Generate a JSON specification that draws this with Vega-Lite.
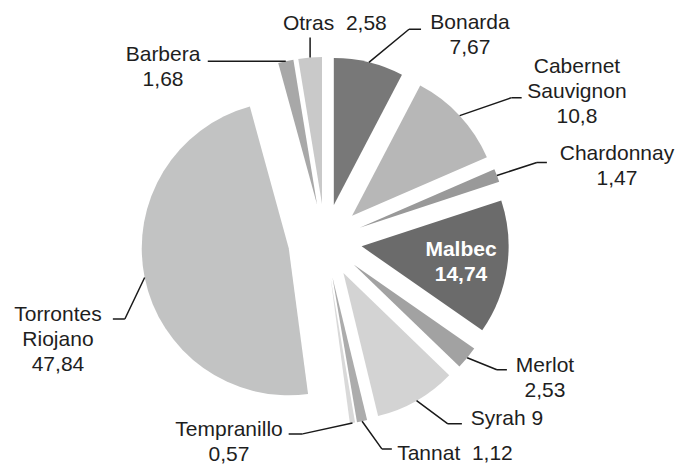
{
  "$schema": "https://vega.github.io/schema/vega-lite/v6.json",
  "width": 650,
  "height": 446,
  "autosize": {"type": "none"},
  "padding": {"left": 0, "top": 18, "right": 28, "bottom": 0},
  "background": "white",
  "config": {"view": {"stroke": null}},
  "data": {
    "values": [
      {"variedad": "Bonarda", "valor": 7.67, "etiqueta": "Bonarda\n7,67"},
      {"variedad": "Cabernet Sauvignon", "valor": 10.8, "etiqueta": "Cabernet\nSauvignon\n10,8"},
      {"variedad": "Chardonnay", "valor": 1.47, "etiqueta": "Chardonnay\n1,47"},
      {"variedad": "Malbec", "valor": 14.74, "etiqueta": "Malbec\n14,74"},
      {"variedad": "Merlot", "valor": 2.53, "etiqueta": "Merlot\n2,53"},
      {"variedad": "Syrah", "valor": 9, "etiqueta": "Syrah 9"},
      {"variedad": "Tannat", "valor": 1.12, "etiqueta": "Tannat \u00a01,12"},
      {"variedad": "Tempranillo", "valor": 0.57, "etiqueta": "Tempranillo\n0,57"},
      {"variedad": "Torrontes Riojano", "valor": 47.84, "etiqueta": "Torrontes\nRiojano\n47,84"},
      {"variedad": "Barbera", "valor": 1.68, "etiqueta": "Barbera\n1,68"},
      {"variedad": "Otras", "valor": 2.58, "etiqueta": "Otras \u00a02,58"}
    ]
  },
  "transform": [{"window": [{"op": "row_number", "as": "idx"}]}],
  "encoding": {
    "theta": {"field": "valor", "type": "quantitative", "stack": true},
    "order": {"field": "idx", "type": "quantitative"},
    "color": {
      "field": "variedad",
      "type": "nominal",
      "legend": null,
      "scale": {
        "domain": ["Bonarda", "Cabernet Sauvignon", "Chardonnay", "Malbec", "Merlot", "Syrah", "Tannat", "Tempranillo", "Torrontes Riojano", "Barbera", "Otras"],
        "range": ["#787878", "#b7b7b7", "#999999", "#6b6b6b", "#a2a2a2", "#d3d3d3", "#acacac", "#d9d9d9", "#c2c3c3", "#a8a8a8", "#c9c9c9"]
      }
    }
  },
  "layer": [
    {
      "mark": {
        "type": "arc",
        "innerRadius": 0,
        "outerRadius": 147,
        "xOffset": {"expr": "37*sin((scale('theta', datum.valor_start) + scale('theta', datum.valor_end))/2)"},
        "yOffset": {"expr": "-37*cos((scale('theta', datum.valor_start) + scale('theta', datum.valor_end))/2)"}
      }
    },
    {
      "mark": {
        "type": "arc",
        "filled": false,
        "strokeWidth": 1.5,
        "innerRadius": 0,
        "padAngle": 3.14159,
        "outerRadius": {"expr": "[52,55,42,0,32,39,34,51,46,78,20][datum.idx-1]"},
        "thetaOffset": {"expr": "[50.5,70.9,72,0,111.8,126.6,144.5,257.6,205.5,270,0][datum.idx-1]*PI/180 - (scale('theta', datum.valor_start) + scale('theta', datum.valor_end))/2"},
        "theta2Offset": {"expr": "[50.5,70.9,72,0,111.8,126.6,144.5,257.6,205.5,270,0][datum.idx-1]*PI/180 - (scale('theta', datum.valor_start) + scale('theta', datum.valor_end))/2"},
        "xOffset": {"expr": "184*sin((scale('theta', datum.valor_start) + scale('theta', datum.valor_end))/2)"},
        "yOffset": {"expr": "-184*cos((scale('theta', datum.valor_start) + scale('theta', datum.valor_end))/2)"}
      },
      "encoding": {"color": {"value": "#1a1a1a"}}
    },
    {
      "mark": {
        "type": "arc",
        "filled": false,
        "strokeWidth": 1.5,
        "innerRadius": 0,
        "padAngle": 3.14159,
        "outerRadius": {"expr": "[12,10,10,0,10,14,10,14,12,0,0][datum.idx-1]"},
        "thetaOffset": {"expr": "[90,90,90,0,90,90,90,270,270,0,0][datum.idx-1]*PI/180 - (scale('theta', datum.valor_start) + scale('theta', datum.valor_end))/2"},
        "theta2Offset": {"expr": "[90,90,90,0,90,90,90,270,270,0,0][datum.idx-1]*PI/180 - (scale('theta', datum.valor_start) + scale('theta', datum.valor_end))/2"},
        "xOffset": {"expr": "184*sin((scale('theta', datum.valor_start) + scale('theta', datum.valor_end))/2) + [52,55,42,0,32,39,34,51,46,78,20][datum.idx-1]*sin([50.5,70.9,72,0,111.8,126.6,144.5,257.6,205.5,270,0][datum.idx-1]*PI/180)"},
        "yOffset": {"expr": "-184*cos((scale('theta', datum.valor_start) + scale('theta', datum.valor_end))/2) - [52,55,42,0,32,39,34,51,46,78,20][datum.idx-1]*cos([50.5,70.9,72,0,111.8,126.6,144.5,257.6,205.5,270,0][datum.idx-1]*PI/180)"}
      },
      "encoding": {"color": {"value": "#1a1a1a"}}
    },
    {
      "mark": {
        "type": "text",
        "font": "Liberation Sans",
        "fontSize": 21,
        "lineHeight": 25,
        "lineBreak": "\n",
        "align": "center",
        "baseline": "middle",
        "fontWeight": {"expr": "datum.idx === 4 ? 'bold' : 'normal'"},
        "radius": {"expr": "[262.2,306.2,304.8,136.3,252.8,254.6,249.5,212.4,277.1,247.0,217.2][datum.idx-1]"},
        "thetaOffset": {"expr": "[33.57,55.37,73.32,93.58,119.51,134.4,148.6,206.86,254.51,319.03,2.6][datum.idx-1]*PI/180 - (scale('theta', datum.valor_start) + scale('theta', datum.valor_end))/2"}
      },
      "encoding": {
        "text": {"field": "etiqueta", "type": "nominal"},
        "color": {"condition": {"test": "datum.idx === 4", "value": "#ffffff"}, "value": "#1e1e1e"}
      }
    }
  ]
}
